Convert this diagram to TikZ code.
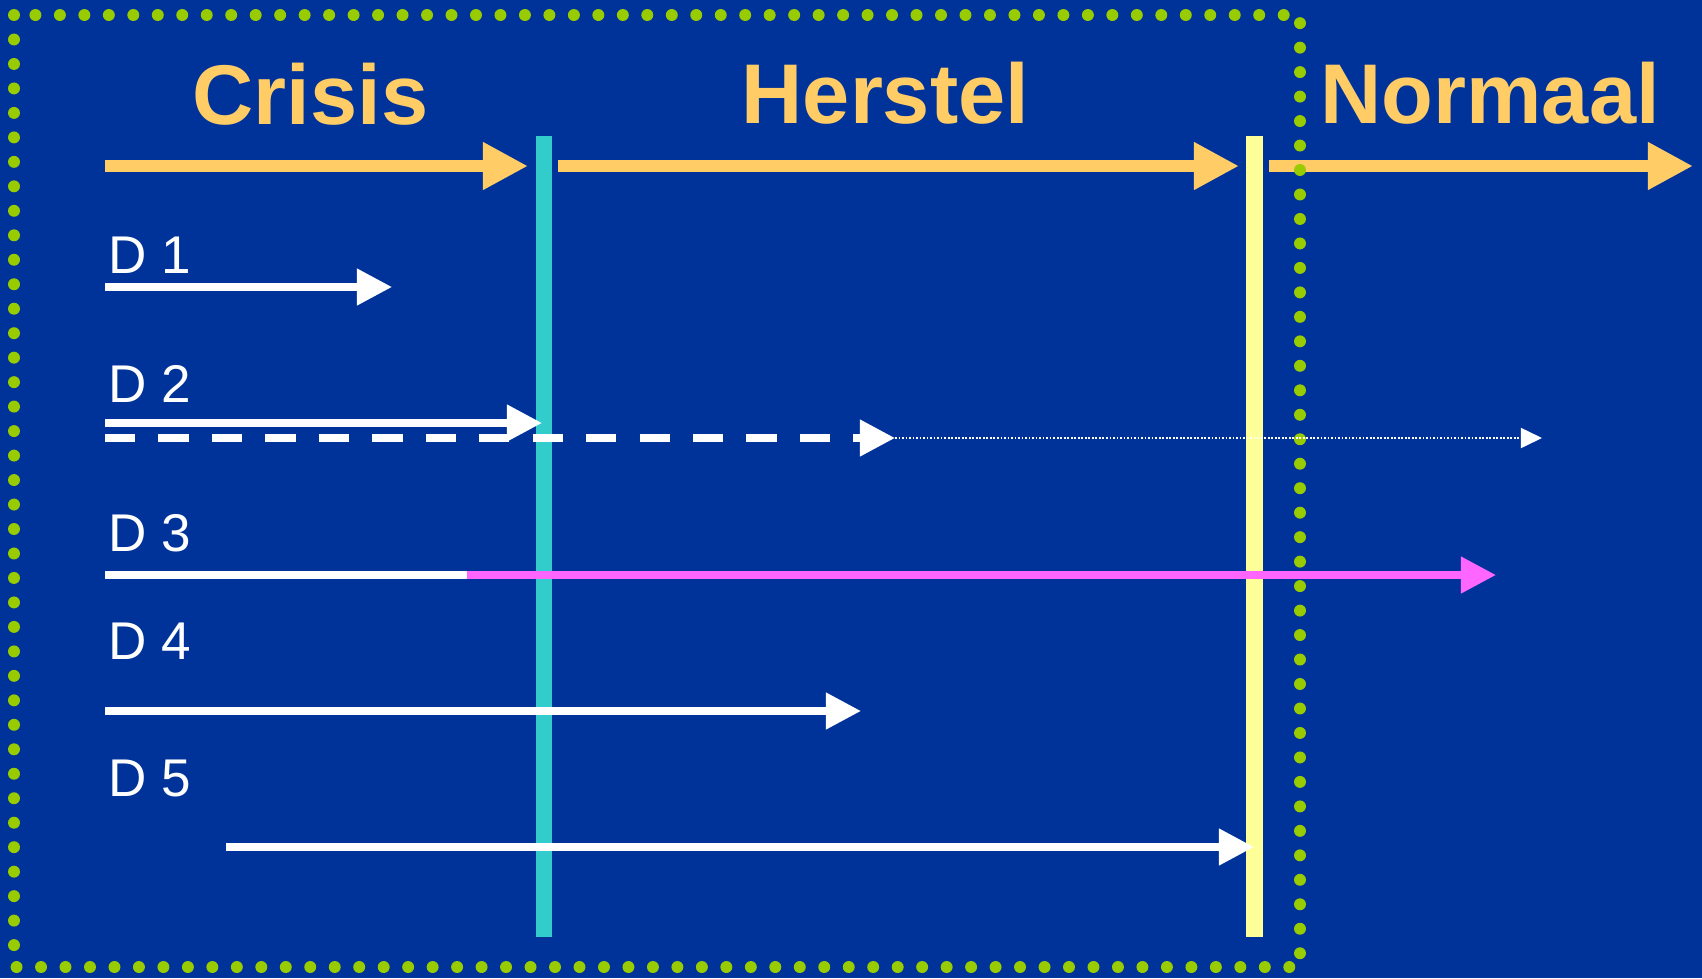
\documentclass[tikz,border=0pt]{standalone}
\usepackage{fontspec}
\setmainfont{Liberation Sans}
\usepackage{tikz}
\usetikzlibrary{arrows.meta}
\definecolor{navy}{HTML}{003399}
\definecolor{phasecol}{HTML}{FFCC66}
\definecolor{cyanbar}{HTML}{33CCCC}
\definecolor{yellowbar}{HTML}{FFFF99}
\definecolor{pinkcol}{HTML}{FF66FF}
\definecolor{dotcol}{HTML}{99CC00}

\begin{document}
\begin{tikzpicture}[x=0.01cm,y=-0.01cm]
    \tikzstyle{title}=[font=\bfseries\fontsize{24.1}{28}\selectfont,text=phasecol,anchor=base west,inner sep=0pt]
    \tikzstyle{dlabel}=[font=\fontsize{15.1}{18}\selectfont,text=white,anchor=base west,inner sep=0pt]
    \tikzstyle{phase}=[line width=3.4pt,draw=phasecol,-{Triangle[length=12.8pt,width=12.7pt]}]
    \tikzstyle{bar}=[line width=4.6pt]
    \tikzstyle{dur}=[line width=2.1pt,draw=white,-{Triangle[length=10pt,width=10pt]}]
    \tikzstyle{tail}=[line width=0.5pt,draw=white,dash pattern=on 0.5pt off 0.5pt,-{Triangle[length=6pt,width=5.7pt]}]
    \tikzstyle{border}=[line width=3.4pt,draw=dotcol,line cap=round,dash pattern=on 0pt off 6.96pt]

    \fill[navy] (0,0) rectangle (1702,978);
    \useasboundingbox (0,0) rectangle (1702,978);

    % phase titles
    \node(crisis)  [title] at (192,124) {Crisis};
    \node(herstel) [title] at (741,123) {Herstel};
    \node(normaal) [title] at (1320,123) {Normaal};

    % phase boundaries
    \coordinate (b1t) at (544,136);
    \coordinate (b1b) at (544,937);
    \coordinate (b2t) at (1254.5,136);
    \coordinate (b2b) at (1254.5,937);
    \draw [bar,cyanbar] (b1t) -- (b1b);
    \draw [bar,yellowbar] (b2t) -- (b2b);

    % phase arrows
    \coordinate (p0) at (105,166);
    \coordinate (p1) at (528,166);
    \coordinate (p2) at (558,166);
    \coordinate (p3) at (1239,166);
    \coordinate (p4) at (1269,166);
    \coordinate (p5) at (1693,166);
    \draw [phase] (p0) -- (p1);
    \draw [phase] (p2) -- (p3);
    \draw [phase] (p4) -- (p5);

    \draw [border] (14,15) rectangle (1300,967);

    % durations
    \node(l1) [dlabel] at (108,273) {D 1};
    \node(l2) [dlabel] at (108,402) {D 2};
    \node(l3) [dlabel] at (108,551) {D 3};
    \node(l4) [dlabel] at (108,659) {D 4};
    \node(l5) [dlabel] at (108,796) {D 5};

    \coordinate (d1s) at (105,287);
    \coordinate (d1e) at (392,287);
    \coordinate (d2s) at (105,423);
    \coordinate (d2e) at (542,423);
    \coordinate (d2ds) at (105,438);
    \coordinate (d2de) at (895,438);
    \coordinate (d2te) at (1542,438);
    \coordinate (d3s) at (105,575);
    \coordinate (d3m) at (467,575);
    \coordinate (d3e) at (1496,575);
    \coordinate (d4s) at (105,711);
    \coordinate (d4e) at (861,711);
    \coordinate (d5s) at (226,847);
    \coordinate (d5e) at (1254,847);

    \draw [dur] (d1s) -- (d1e);
    \draw [dur] (d2s) -- (d2e);
    \draw [dur,dash pattern=on 8.6pt off 6.6pt] (d2ds) -- (d2de);
    \draw [tail] (d2de) -- (d2te);
    \draw [line width=2.1pt,white] (d3s) -- (d3m);
    \draw [dur,draw=pinkcol,fill=pinkcol] (d3m) -- (d3e);
    \draw [dur] (d4s) -- (d4e);
    \draw [dur] (d5s) -- (d5e);

\end{tikzpicture}
\end{document}
